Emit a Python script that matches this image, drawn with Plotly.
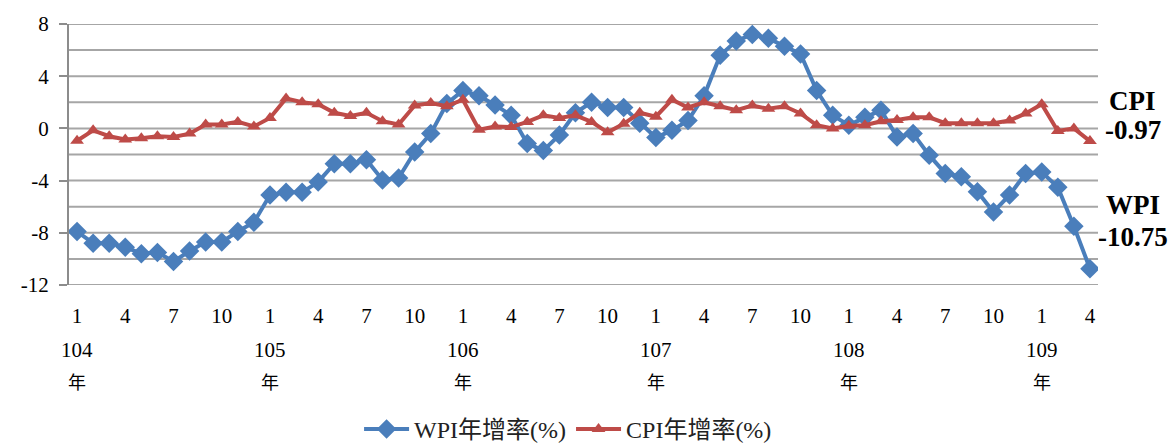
import plotly.graph_objects as go

months = [1, 2, 3, 4, 5, 6, 7, 8, 9, 10, 11, 12] * 5 + [1, 2, 3, 4]
years = ["104"] * 12 + ["105"] * 12 + ["106"] * 12 + ["107"] * 12 + ["108"] * 12 + ["109"] * 4

wpi = [-7.9, -8.8, -8.8, -9.1, -9.6, -9.5, -10.2, -9.4, -8.7, -8.7, -7.9, -7.2,
       -5.1, -4.9, -4.9, -4.1, -2.7, -2.7, -2.4, -3.95, -3.8, -1.8, -0.4, 1.9,
       2.9, 2.5, 1.8, 1.0, -1.15, -1.7, -0.5, 1.2, 2.0, 1.6, 1.6, 0.4,
       -0.7, -0.15, 0.6, 2.5, 5.6, 6.7, 7.2, 6.9, 6.3, 5.7, 2.9, 1.0,
       0.25, 0.85, 1.4, -0.65, -0.4, -2.05, -3.45, -3.7, -4.85, -6.4, -5.1, -3.45,
       -3.35, -4.5, -7.5, -10.75]
cpi = [-0.95, -0.15, -0.6, -0.85, -0.75, -0.6, -0.65, -0.4, 0.3, 0.3, 0.5, 0.15,
       0.8, 2.3, 2.0, 1.85, 1.2, 0.95, 1.2, 0.55, 0.3, 1.75, 1.95, 1.7,
       2.2, -0.1, 0.15, 0.1, 0.5, 1.0, 0.8, 1.0, 0.5, -0.3, 0.35, 1.2,
       0.9, 2.2, 1.6, 2.0, 1.7, 1.4, 1.75, 1.5, 1.7, 1.15, 0.25, 0.0,
       0.2, 0.25, 0.55, 0.65, 0.85, 0.85, 0.4, 0.4, 0.4, 0.4, 0.6, 1.15,
       1.85, -0.2, 0.0, -0.97]

wpi_name = "WPI年增率(%)"
cpi_name = "CPI年增率(%)"
y_ticks = [8, 4, 0, -4, -8, -12]
y_tick_text = ["8", "4", "0", "-4", "-8", "-12"]

idx = list(range(len(months)))
tick_idx = [i for i in idx if months[i] in (1, 4, 7, 10)]
tick_txt = [str(months[i]) for i in tick_idx]
year_idx = [i for i in idx if months[i] == 1]

FONT = "Liberation Serif"
CJK = "Liberation Serif, Noto Sans CJK TC"
BLUE = "#4A7EBB"
RED = "#BE4B48"

fig = go.Figure()
fig.add_trace(go.Scatter(
    x=idx, y=wpi, name=wpi_name, mode="lines+markers",
    line=dict(color=BLUE, width=4),
    marker=dict(symbol="diamond", size=15, color=BLUE),
))
fig.add_trace(go.Scatter(
    x=idx, y=cpi, name=cpi_name, mode="lines+markers",
    line=dict(color=RED, width=4),
    marker=dict(symbol="triangle-up", size=12, color=RED),
))

annotations = []
for i in year_idx:
    annotations.append(dict(x=i, y=-0.25, xref="x", yref="paper", text=years[i],
                            yanchor="middle", showarrow=False,
                            font=dict(family=FONT, size=21, color="black")))
    annotations.append(dict(x=i, y=-0.375, xref="x", yref="paper", text="年",
                            yanchor="middle", showarrow=False,
                            font=dict(family=CJK, size=18, color="black")))

last = len(idx) - 1
side = [("CPI", 2.1), ("%.2f" % cpi[last], -0.15), ("WPI", -5.85), ("%.2f" % wpi[last], -8.3)]
for txt, yv in side:
    annotations.append(dict(x=1.034, y=yv, xref="paper", yref="y", text="<b>%s</b>" % txt,
                            xanchor="center", yanchor="middle", showarrow=False,
                            font=dict(family=FONT, size=27, color="black")))

# page body has an 8px margin, so the figure is sized to fit the window
fig.update_layout(
    width=1168, height=439,
    margin=dict(l=61, r=78, t=16, b=162, autoexpand=False),
    paper_bgcolor="white", plot_bgcolor="white",
    font=dict(family=CJK, size=21, color="black"),
    showlegend=True,
    legend=dict(orientation="h", x=0.485, xanchor="center", y=-0.553, yanchor="middle",
                font=dict(family=CJK, size=24, color="#222"), tracegroupgap=0,
                itemwidth=45),
    annotations=annotations,
)
fig.update_xaxes(
    range=[-0.5, last + 0.5], tickmode="array", tickvals=tick_idx, ticktext=tick_txt,
    showgrid=False, zeroline=False, showline=False, ticks="", ticklabelstandoff=16,
    tickfont=dict(family=FONT, size=21, color="black"),
)
fig.update_yaxes(
    range=[-12, 8], tickmode="array", tickvals=y_ticks, ticktext=y_tick_text,
    showgrid=False, zeroline=False, showline=True, linecolor="#8c8c8c", linewidth=2,
    ticks="outside", ticklen=8, tickcolor="#8c8c8c", tickwidth=2, ticklabelstandoff=6,
    tickfont=dict(family=FONT, size=21, color="black"),
)
for g in range(-12, 9, 2):
    fig.add_shape(type="line", xref="paper", yref="y", x0=0, x1=1, y0=g, y1=g,
                  line=dict(color="#a6a6a6", width=2), layer="below")

fig.write_html("out.html")
